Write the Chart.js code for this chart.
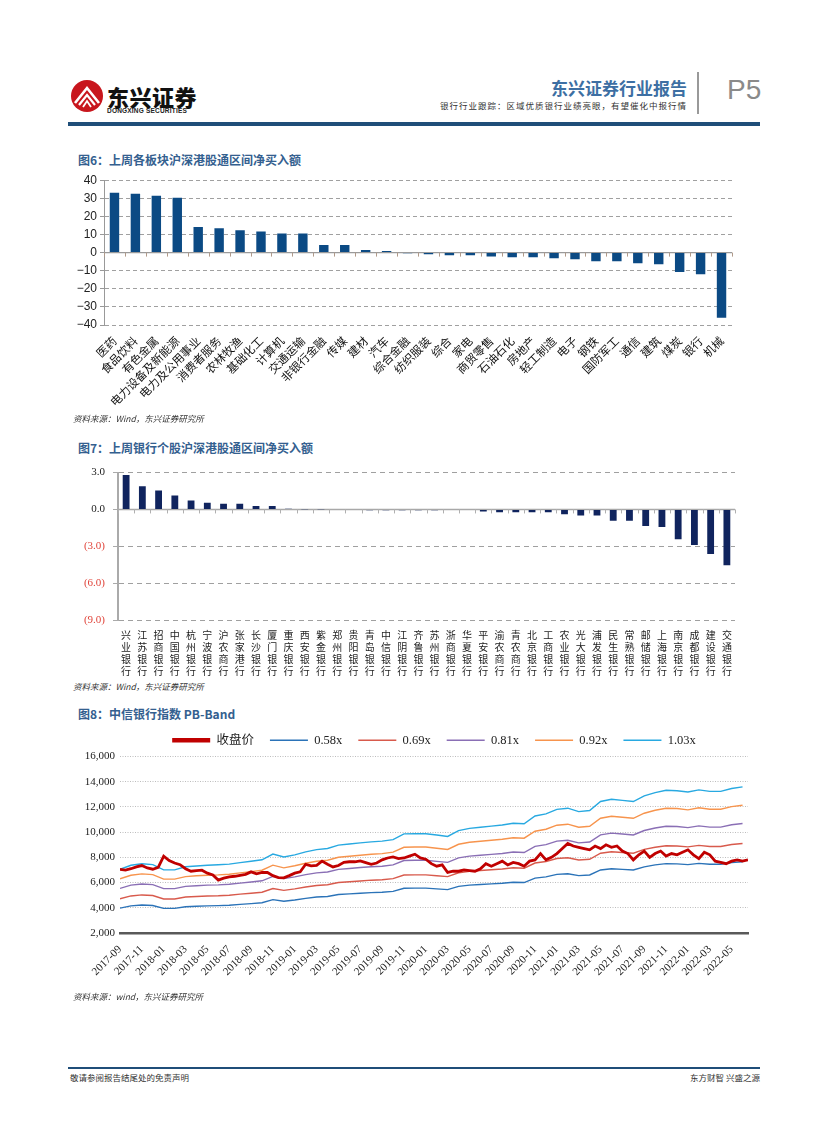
<!DOCTYPE html>
<html><head><meta charset="utf-8">
<script src="https://cdn.jsdelivr.net/npm/chart.js@4/dist/chart.umd.min.js"></script>
<style>
body{margin:0;background:#fff;}
#page{position:relative;width:827px;height:1122px;overflow:hidden;font-family:"Noto Sans CJK SC",sans-serif;color:#222;}
.abs{position:absolute;white-space:nowrap;}
.title{font-size:12px;font-weight:bold;color:#34608f;}
.src{font-size:8.5px;font-style:italic;color:#333;}
canvas{position:absolute;}
</style></head><body><div id="page">
<svg class="abs" style="left:70px;top:79px" width="34" height="34" viewBox="0 0 34 34">
<circle cx="17" cy="17" r="16" fill="#c8161d"/>
<path d="M5 24 L17 9 L29 24" stroke="#fff" stroke-width="2.6" fill="none"/>
<path d="M9 26 L17 16 L25 26" stroke="#fff" stroke-width="2.2" fill="none"/>
<path d="M13 28 L17 22 L21 28" stroke="#fff" stroke-width="1.8" fill="none"/>
</svg>
<div class="abs" style="left:107px;top:80px;font-size:22px;font-weight:900;color:#111;letter-spacing:0.5px;">东兴证券</div>
<div class="abs" style="left:107px;top:107px;font-size:6.5px;font-weight:bold;color:#222;letter-spacing:0.2px;font-family:'Liberation Sans';">DONGXING SECURITIES</div>
<div class="abs" style="right:140px;top:75px;font-size:17px;font-weight:bold;color:#3d6fa3;">东兴证券行业报告</div>
<div class="abs" style="right:140px;top:99px;font-size:8.5px;color:#333;letter-spacing:1px;">银行行业跟踪：区域优质银行业绩亮眼，有望催化中报行情</div>
<div class="abs" style="left:697px;top:72px;width:2px;height:42px;background:#999;"></div>
<div class="abs" style="left:727px;top:74px;font-size:28px;color:#8a8a8a;font-family:'Liberation Sans';">P5</div>
<div class="abs" style="left:68px;top:122px;width:692px;height:4px;background:#1f4e79;"></div>

<div class="abs title" style="left:78px;top:151px;">图6：上周各板块沪深港股通区间净买入额</div>
<canvas id="c6" style="left:60px;top:170px;" width="690" height="245"></canvas>
<div class="abs src" style="left:73px;top:412px;">资料来源：Wind，东兴证券研究所</div>

<div class="abs title" style="left:78px;top:439px;">图7：上周银行个股沪深港股通区间净买入额</div>
<canvas id="c7" style="left:60px;top:458px;" width="690" height="222"></canvas>
<div class="abs src" style="left:73px;top:680px;">资料来源：Wind，东兴证券研究所</div>

<div class="abs title" style="left:78px;top:705px;">图8：中信银行指数 PB-Band</div>
<canvas id="c8" style="left:60px;top:718px;" width="700" height="277"></canvas>
<div class="abs src" style="left:73px;top:990px;">资料来源：wind，东兴证券研究所</div>

<div class="abs" style="left:68px;top:1067px;width:692px;height:2px;background:#1f4e79;"></div>
<div class="abs" style="left:70px;top:1071px;font-size:8.5px;color:#333;">敬请参阅报告结尾处的免责声明</div>
<div class="abs" style="right:67px;top:1071px;font-size:8.5px;color:#333;">东方财智 兴盛之源</div>
</div>
<script>
// ---------- Figure 6 data ----------
const sectorNames = ['医药','食品饮料','有色金属','电力设备及新能源','电力及公用事业','消费者服务','农林牧渔','基础化工','计算机','交通运输','非银行金融','传媒','建材','汽车','综合金融','纺织服装','综合','家电','商贸零售','石油石化','房地产','轻工制造','电子','钢铁','国防军工','通信','建筑','煤炭','银行','机械'];
const sectorNetBuy = [33,32.5,31.4,30.3,14.1,13.4,12.3,11.7,10.6,10.6,4.2,4.2,1.5,0.9,-0.4,-0.9,-1.5,-1.5,-2.2,-2.6,-2.6,-3.1,-3.7,-4.8,-4.8,-5.9,-6.5,-10.7,-11.9,-36];

// ---------- Figure 7 data ----------
const bankNames = ['兴业银行','江苏银行','招商银行','中国银行','杭州银行','宁波银行','沪农商行','张家港行','长沙银行','厦门银行','重庆银行','西安银行','紫金银行','郑州银行','贵阳银行','青岛银行','中信银行','江阴银行','齐鲁银行','苏州银行','浙商银行','华夏银行','平安银行','渝农商行','青农商行','北京银行','工商银行','农业银行','光大银行','浦发银行','民生银行','常熟银行','邮储银行','上海银行','南京银行','成都银行','建设银行','交通银行'];
const bankNetBuy = [2.81,1.88,1.55,1.13,0.72,0.54,0.46,0.46,0.29,0.29,0.05,0.01,-0.02,-0.05,-0.05,-0.06,-0.06,-0.06,-0.06,-0.06,-0.05,-0.05,-0.16,-0.22,-0.22,-0.22,-0.22,-0.4,-0.5,-0.5,-0.92,-0.92,-1.35,-1.43,-2.43,-2.9,-3.62,-4.54];

// ---------- Figure 8 data ----------
const pbTickLabels = ['2017-09','2017-11','2018-01','2018-03','2018-05','2018-07','2018-09','2018-11','2019-01','2019-03','2019-05','2019-07','2019-09','2019-11','2020-01','2020-03','2020-05','2020-07','2020-09','2020-11','2021-01','2021-03','2021-05','2021-07','2021-09','2021-11','2022-01','2022-03','2022-05'];
// close price, half-month samples starting 2017-09
const closePrice = [
7050,6990,7100,7250,7350,7160,7060,7200,8100,7750,
7550,7420,7100,6900,6950,6980,6750,6600,6200,6350,
6460,6500,6580,6650,6850,6700,6800,6800,6550,6400,
6380,6550,6750,6850,7450,7320,7370,7700,7450,7240,
7350,7600,7650,7650,7720,7580,7450,7550,7800,7950,
8030,7900,7950,8100,8250,7950,7850,7500,7300,7400,
6800,6900,6900,7000,6950,6900,7100,7500,7300,7500,
7700,7400,7600,7500,7300,7700,7800,8300,7800,8000,
8300,8700,9100,8900,8800,8700,8600,8900,8700,9000,
8800,8900,8500,8300,7800,8200,8500,8000,8300,8500,
8100,8300,8200,8400,8600,8200,7900,8400,8200,7700,
7600,7500,7700,7800,7700,7800];
// PB bands, monthly samples starting 2017-09
const band058 = [
3970,4150,4220,4180,3950,3950,4080,4120,4150,4170,
4200,4270,4330,4400,4650,4520,4620,4750,4850,4900,
5050,5100,5150,5200,5230,5300,5550,5560,5560,5500,
5440,5700,5800,5850,5900,5950,6030,6000,6350,6450,
6650,6700,6550,6600,7000,7100,7050,7000,7250,7400,
7500,7480,7420,7520,7450,7450,7580,7650];
const band069 = [
4720,4940,5020,4970,4700,4700,4850,4900,4940,4960,
5000,5080,5150,5230,5530,5380,5500,5650,5770,5830,
6010,6070,6130,6190,6220,6310,6600,6610,6610,6540,
6470,6780,6900,6960,7020,7080,7170,7140,7550,7670,
7910,7970,7790,7850,8330,8450,8390,8330,8630,8800,
8920,8900,8830,8950,8860,8860,9020,9100];
const band081 = [
5540,5800,5890,5840,5520,5520,5700,5750,5800,5820,
5870,5960,6050,6140,6490,6310,6450,6630,6770,6840,
7050,7120,7190,7260,7300,7400,7750,7770,7770,7680,
7600,7960,8100,8170,8240,8310,8420,8380,8870,9010,
9290,9360,9150,9220,9780,9920,9850,9780,10130,10330,
10470,10450,10360,10500,10400,10400,10590,10680];
const band092 = [
6300,6580,6690,6630,6270,6270,6470,6540,6580,6610,
6660,6770,6870,6980,7380,7170,7330,7530,7690,7770,
8010,8090,8170,8250,8300,8410,8800,8820,8820,8720,
8630,9040,9200,9280,9360,9440,9560,9520,10070,10230,
10550,10630,10390,10470,11100,11260,11180,11100,11500,11740,
11900,11870,11770,11930,11820,11820,12020,12130];
const band103 = [
7050,7370,7490,7420,7010,7010,7250,7320,7370,7410,
7460,7580,7690,7810,8260,8030,8200,8440,8610,8700,
8970,9060,9150,9230,9290,9410,9860,9870,9870,9770,
9660,10120,10300,10390,10480,10570,10710,10660,11280,11450,
11810,11900,11630,11720,12430,12610,12520,12430,12880,13140,
13320,13280,13180,13350,13230,13230,13460,13590];
const bandNames = ['0.58x','0.69x','0.81x','0.92x','1.03x'];

// ---------- helpers ----------
Chart.defaults.animation = false;
Chart.defaults.devicePixelRatio = 1;
const zeroLinePlugin = {
  id: 'zeroLine',
  beforeDatasetsDraw(chart, args, opts) {
    const x = chart.scales.x, y = chart.scales.y, ctx = chart.ctx;
    const y0 = y.getPixelForValue(0);
    const n = chart.data.labels.length;
    ctx.save();
    ctx.strokeStyle = opts.color; ctx.lineWidth = opts.width;
    ctx.beginPath(); ctx.moveTo(x.left, y0); ctx.lineTo(x.right, y0); ctx.stroke();
    ctx.strokeStyle = opts.tickColor; ctx.lineWidth = 1;
    for (let i = 0; i <= n; i++) {
      const px = Math.round(x.left + (x.right - x.left) * i / n) + 0.5;
      ctx.beginPath(); ctx.moveTo(px, y0); ctx.lineTo(px, y0 + opts.tickLen); ctx.stroke();
    }
    ctx.restore();
  }
};

// ---------- Figure 6 ----------
new Chart(document.getElementById('c6'), {
  type: 'bar',
  data: { labels: sectorNames, datasets: [{ data: sectorNetBuy, backgroundColor: '#0b4a84', barPercentage: 0.45, categoryPercentage: 1 }] },
  plugins: [zeroLinePlugin],
  options: {
    responsive: false,
    layout: { padding: { top: 4, right: 18, left: 0, bottom: 0 } },
    plugins: { legend: { display: false }, tooltip: { enabled: false },
      zeroLine: { color: '#9a9a9a', width: 1.2, tickColor: '#b09a8a', tickLen: 4 } },
    scales: {
      x: {
        grid: { display: false }, border: { display: false },
        ticks: { autoSkip: false, minRotation: 45, maxRotation: 45, padding: 1,
          font: { family: 'Noto Sans CJK SC', size: 11.5 }, color: '#111' },
        afterFit: s => { s.height = 90; }
      },
      y: {
        min: -40, max: 40,
        ticks: { stepSize: 10, padding: 3, font: { family: 'Liberation Sans', size: 12 }, color: '#222',
          callback: v => v < 0 ? '\u2212' + Math.abs(v) : String(v) },
        grid: { color: c => c.tick && c.tick.value === 0 ? 'rgba(0,0,0,0)' : '#a0a0a0', tickColor: '#999', tickLength: 4, lineWidth: 1 },
        border: { display: true, color: '#999', width: 1, dash: [4, 3] },
        afterFit: s => { s.width = 44; }
      }
    }
  }
});

// ---------- Figure 7 ----------
new Chart(document.getElementById('c7'), {
  type: 'bar',
  data: { labels: bankNames, datasets: [{ data: bankNetBuy, backgroundColor: '#10245e', barPercentage: 0.42, categoryPercentage: 1 }] },
  plugins: [zeroLinePlugin],
  options: {
    responsive: false,
    layout: { padding: { top: 4, right: 15, left: 0, bottom: 0 } },
    plugins: { legend: { display: false }, tooltip: { enabled: false },
      zeroLine: { color: '#a8a8a8', width: 1.5, tickColor: '#b0b0b0', tickLen: 4 } },
    scales: {
      x: {
        grid: { display: false }, border: { display: false },
        ticks: { autoSkip: false, maxRotation: 0, minRotation: 0, padding: 1,
          font: { family: 'Noto Sans CJK SC', size: 10, lineHeight: 1.2 }, color: '#222',
          callback: function (v) { return this.getLabelForValue(v).split(''); } },
        afterFit: s => { s.height = 60; }
      },
      y: {
        min: -9, max: 3,
        ticks: { stepSize: 3, padding: 8, font: { family: 'Liberation Serif', size: 11 },
          color: c => c.tick.value < 0 ? '#e0443a' : '#222',
          callback: v => v < 0 ? '(' + Math.abs(v).toFixed(1) + ')' : v.toFixed(1) },
        grid: { color: c => c.tick && c.tick.value === 0 ? 'rgba(0,0,0,0)' : '#a0a0a0', tickColor: '#aaa', tickLength: 5, lineWidth: 1 },
        border: { display: true, color: '#aaa', width: 2, dash: [5, 4] },
        afterFit: s => { s.width = 58; }
      }
    }
  }
});

// ---------- Figure 8 ----------
const bandColors = ['#2b73b8', '#d85a4c', '#8a6fb5', '#f7944d', '#28a9e1'];
const bandData = [band058, band069, band081, band092, band103];
const ds8 = [{
  label: '收盘价', data: closePrice.map((v, i) => ({ x: i * 0.5, y: v })),
  borderColor: '#c00000', backgroundColor: '#c00000', borderWidth: 2.8, pointRadius: 0, pointStyle: 'line', tension: 0
}];
bandData.forEach((arr, k) => ds8.push({
  label: bandNames[k], data: arr.map((v, i) => ({ x: i, y: v })),
  borderColor: bandColors[k], backgroundColor: bandColors[k], borderWidth: 1.4, pointRadius: 0, pointStyle: 'line', tension: 0
}));
new Chart(document.getElementById('c8'), {
  type: 'line',
  data: { datasets: ds8 },
  options: {
    responsive: false,
    layout: { padding: { top: 0, right: 12, left: 0, bottom: 0 } },
    plugins: {
      tooltip: { enabled: false },
      legend: {
        position: 'top', fullSize: false,
        labels: {
          usePointStyle: true, pointStyleWidth: 38, padding: 16, boxHeight: 12,
          font: { family: 'Liberation Serif, Noto Sans CJK SC', size: 12.5 }, color: '#222',
          generateLabels(chart) {
            return chart.data.datasets.map((d, i) => ({
              text: d.label, fillStyle: d.borderColor, strokeStyle: d.borderColor,
              lineWidth: i === 0 ? 4.5 : 1.5, pointStyle: 'line', hidden: false, datasetIndex: i, fontColor: '#222'
            }));
          }
        }
      }
    },
    scales: {
      x: {
        type: 'linear', min: 0, max: 57.5,
        grid: { display: false },
        border: { display: true, color: '#595959', width: 2.5 },
        ticks: { stepSize: 2, includeBounds: false, autoSkip: false, minRotation: 45, maxRotation: 45, padding: 2,
          font: { family: 'Liberation Serif', size: 11 }, color: '#222',
          callback: v => (v % 2 === 0 && v / 2 < pbTickLabels.length) ? pbTickLabels[v / 2] : '' },
        afterFit: s => { s.height = 62; }
      },
      y: {
        min: 2000, max: 16000,
        ticks: { stepSize: 2000, padding: 5, font: { family: 'Liberation Serif', size: 11 }, color: '#222',
          callback: v => v.toLocaleString('en-US') },
        grid: { color: c => c.tick && c.tick.value === 2000 ? 'rgba(0,0,0,0)' : '#bdbdbd', drawTicks: false, lineWidth: 1 },
        border: { display: false, dash: [1, 1.5] },
        afterFit: s => { s.width = 60; }
      }
    }
  }
});
</script>
</body></html>
